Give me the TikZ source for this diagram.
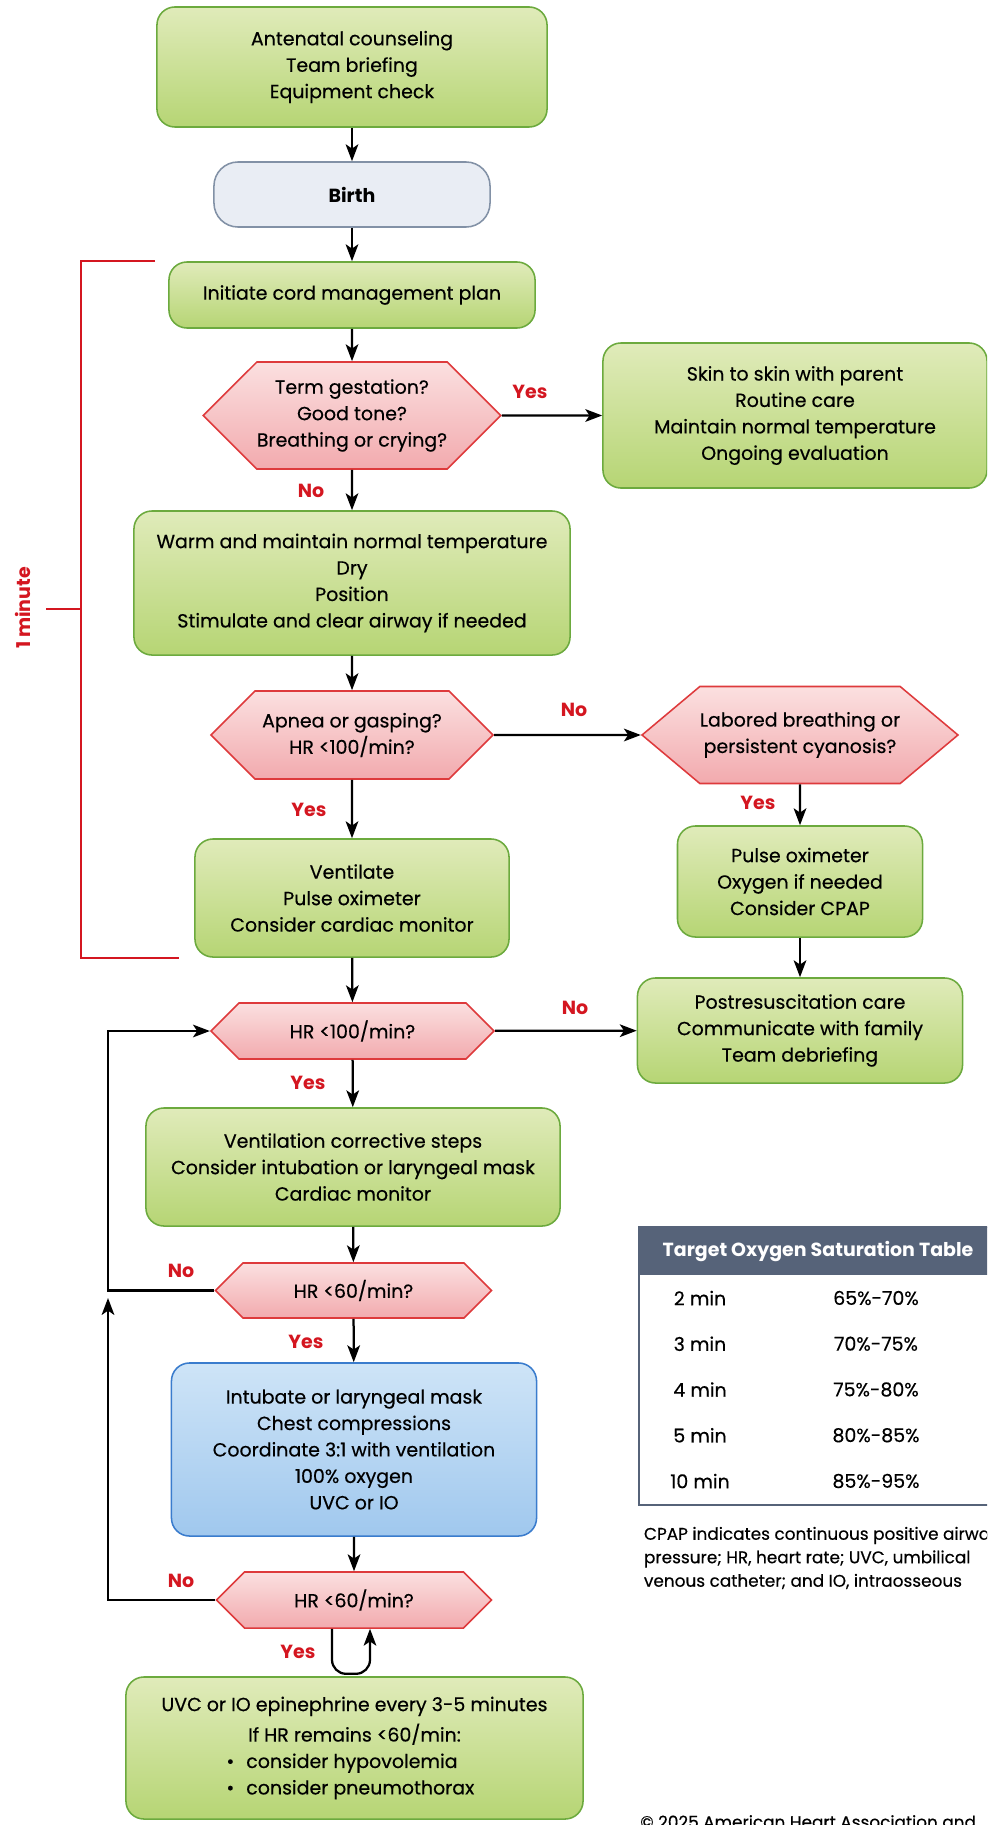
\documentclass[tikz,border=0pt]{standalone}
\usepackage{fontspec}
\setmainfont{Poppins}[UprightFeatures={FakeBold=0.4}]
\usetikzlibrary{arrows.meta,shapes.symbols}

\definecolor{greentop}{RGB}{224,235,186}
\definecolor{greenbot}{RGB}{182,213,116}
\definecolor{greenline}{RGB}{108,170,62}
\definecolor{hextop}{RGB}{251,224,224}
\definecolor{hexbot}{RGB}{242,170,174}
\definecolor{hexline}{RGB}{222,58,60}
\definecolor{bluetop}{RGB}{206,228,247}
\definecolor{bluebot}{RGB}{160,200,238}
\definecolor{blueline}{RGB}{58,124,205}
\definecolor{birthfill}{RGB}{233,237,244}
\definecolor{birthline}{RGB}{130,145,166}
\definecolor{tablehead}{RGB}{86,99,121}
\definecolor{redtext}{RGB}{212,22,32}

\newcommand\boxfont{\fontsize{13.5}{18.8}\selectfont}
\newcommand\notefont{\fontsize{12}{16.7}\selectfont}

\tikzset{
  greenbox/.style={draw=greenline, line width=1.1pt, rounded corners=0.45cm,
    top color=greentop, bottom color=greenbot, align=center, inner sep=0pt,
    font=\boxfont},
  bluebox/.style={greenbox, draw=blueline, top color=bluetop, bottom color=bluebot},
  birthbox/.style={greenbox, draw=birthline, top color=birthfill, bottom color=birthfill,
    rounded corners=0.6cm, font=\boxfont\bfseries},
  hexbox/.style={signal, signal to=east and west, signal from=nowhere,
    signal pointer angle=90, draw=hexline, line width=1.1pt,
    top color=hextop, bottom color=hexbot, align=center, inner sep=0pt,
    font=\boxfont},
  arrow/.style={-{Stealth[length=12pt,width=9pt,inset=3pt]}, line width=1.6pt},
  bracket/.style={draw=redtext, line width=1.8pt},
  answer/.style={text=redtext, font=\boxfont\bfseries},
  minute/.style={text=redtext, font=\boxfont\bfseries, rotate=90},
  cell/.style={font=\boxfont},
  note/.style={font=\notefont, align=left, anchor=west}
}

\begin{document}
\begin{tikzpicture}[x=0.025cm,y=-0.025cm]
  \path[use as bounding box, clip] (0,0) rectangle (987,1825);
  \fill[white] (0,0) rectangle (987,1825);

  % main column
  \node[greenbox, minimum width=9.75cm, minimum height=3cm] (brief) at (352,67)
    {Antenatal counseling\\Team briefing\\Equipment check};
  \node[birthbox, minimum width=6.9cm, minimum height=1.625cm] (birth) at (352,194.5) {Birth};
  \node[greenbox, minimum width=9.15cm, minimum height=1.65cm] (cord) at (352,295)
    {Initiate cord management plan};
  \node[hexbox, minimum width=7.05cm, minimum height=2.675cm] (term) at (352,415.5)
    {Term gestation?\\Good tone?\\Breathing or crying?};
  \node[greenbox, minimum width=10.9cm, minimum height=3.6cm] (warm) at (352,583)
    {Warm and maintain normal temperature\\Dry\\Position\\Stimulate and clear airway if needed};
  \node[hexbox, minimum width=7.05cm, minimum height=2.2cm] (apnea) at (352,735)
    {Apnea or gasping?\\HR <100/min?};
  \node[greenbox, minimum width=7.85cm, minimum height=2.95cm] (vent) at (352,898)
    {Ventilate\\Pulse oximeter\\Consider cardiac monitor};
  \node[hexbox, minimum width=7.075cm, minimum height=1.4cm] (hrhund) at (352.5,1031)
    {HR <100/min?};
  \node[greenbox, minimum width=10.35cm, minimum height=2.95cm] (corr) at (353,1167)
    {Ventilation corrective steps\\Consider intubation or laryngeal mask\\Cardiac monitor};
  \node[hexbox, minimum width=6.9cm, minimum height=1.375cm] (hrsixa) at (353.5,1290.5)
    {HR <60/min?};
  \node[bluebox, minimum width=9.125cm, minimum height=4.325cm] (compr) at (354,1449.5)
    {Intubate or laryngeal mask\\Chest compressions\\Coordinate 3:1 with ventilation\\100\% oxygen\\UVC or IO};
  \node[hexbox, minimum width=6.875cm, minimum height=1.4cm] (hrsixb) at (354,1600)
    {HR <60/min?};
  \node[greenbox, minimum width=11.425cm, minimum height=3.55cm] (epi) at (354.5,1748)
    {UVC or IO epinephrine every 3-5 minutes\\[0.1cm]If HR remains <60/min:\\
     \makebox[6.4cm][l]{\textbullet\hspace{0.3cm}consider hypovolemia}\\
     \makebox[6.4cm][l]{\textbullet\hspace{0.3cm}consider pneumothorax}};

  % right column
  \node[greenbox, minimum width=9.6cm, minimum height=3.625cm] (skin) at (795,415.5)
    {Skin to skin with parent\\Routine care\\Maintain normal temperature\\Ongoing evaluation};
  \node[hexbox, signal pointer angle=80, minimum width=7.4cm, minimum height=2.425cm] (labored) at (800,735)
    {Labored breathing or\\persistent cyanosis?};
  \node[greenbox, minimum width=6.125cm, minimum height=2.775cm] (pulse) at (800,881.5)
    {Pulse oximeter\\Oxygen if needed\\Consider CPAP};
  \node[greenbox, minimum width=8.125cm, minimum height=2.625cm] (post) at (800,1030.5)
    {Postresuscitation care\\Communicate with family\\Team debriefing};

  % connectors
  \draw[arrow] (brief) -- (birth);
  \draw[arrow] (birth) -- (cord);
  \draw[arrow] (cord) -- (term);
  \draw[arrow] (term) -- (skin);
  \draw[arrow] (term) -- (warm);
  \draw[arrow] (warm) -- (apnea);
  \draw[arrow] (apnea) -- (labored);
  \draw[arrow] (labored) -- (pulse);
  \draw[arrow] (pulse) -- (post);
  \draw[arrow] (apnea) -- (vent);
  \draw[arrow] (vent) -- (hrhund);
  \draw[arrow] (hrhund) -- (post);
  \draw[arrow] (hrhund) -- (corr);
  \draw[arrow] (corr) -- (hrsixa);
  \draw[arrow] (hrsixa) -- (compr);
  \draw[arrow] (compr) -- (hrsixb);
  \coordinate (loopx) at (108,0);
  \coordinate (upend) at (108,1298);
  \draw[arrow] (hrsixa.west) -| (loopx |- hrhund.west) -- (hrhund.west);
  \draw[arrow] (hrsixb.west) -| (upend);
  \draw[arrow, rounded corners=0.35cm] ([xshift=-0.55cm]hrsixb.south) -- ++(0,45)
    -- ++(38,0) -- ([xshift=0.4cm]hrsixb.south);

  % answers
  \node[answer] (yterm) at (530,392) {Yes};
  \node[answer] (nterm) at (311,491) {No};
  \node[answer] (napnea) at (574,710) {No};
  \node[answer] (ylab) at (758,803) {Yes};
  \node[answer] (yapnea) at (309,810) {Yes};
  \node[answer] (nhund) at (575,1008) {No};
  \node[answer] (yhund) at (308,1083) {Yes};
  \node[answer] (nsixa) at (181,1271) {No};
  \node[answer] (ysixa) at (306,1342) {Yes};
  \node[answer] (nsixb) at (181,1581) {No};
  \node[answer] (ysixb) at (298,1652) {Yes};

  % one minute bracket
  \coordinate (brk) at (81,609);
  \draw[bracket] ([xshift=-0.325cm]cord.north west) -| (brk) |- ([xshift=-0.375cm]vent.south west);
  \draw[bracket] (brk) -- ++(-35,0);
  \node[minute] (onemin) at (23,608) {1 minute};

  % oxygen table
  \fill[tablehead] (639,1227) rectangle (997,1275);
  \draw[tablehead, line width=1.2pt] (639,1227) rectangle (997,1505);
  \node[font=\boxfont\bfseries, text=white] (thead) at (818,1251) {Target Oxygen Saturation Table};
  \foreach \t/\v [count=\i from 0] in {2 min/65\%-70\%, 3 min/70\%-75\%,
      4 min/75\%-80\%, 5 min/80\%-85\%, 10 min/85\%-95\%}
  {
    \node[cell] (t\i) at (700,1298+45.75*\i) {\t};
    \node[cell] (v\i) at (876,1298+45.75*\i) {\v};
  }
  \node[note] (abbr) at (639,1558) {CPAP indicates continuous positive airway\\
    pressure; HR, heart rate; UVC, umbilical\\venous catheter; and IO, intraosseous};
  \node[font=\notefont, anchor=base west, inner sep=0pt] (copy) at (640,1828)
    {© 2025 American Heart Association and};
\end{tikzpicture}
\end{document}
